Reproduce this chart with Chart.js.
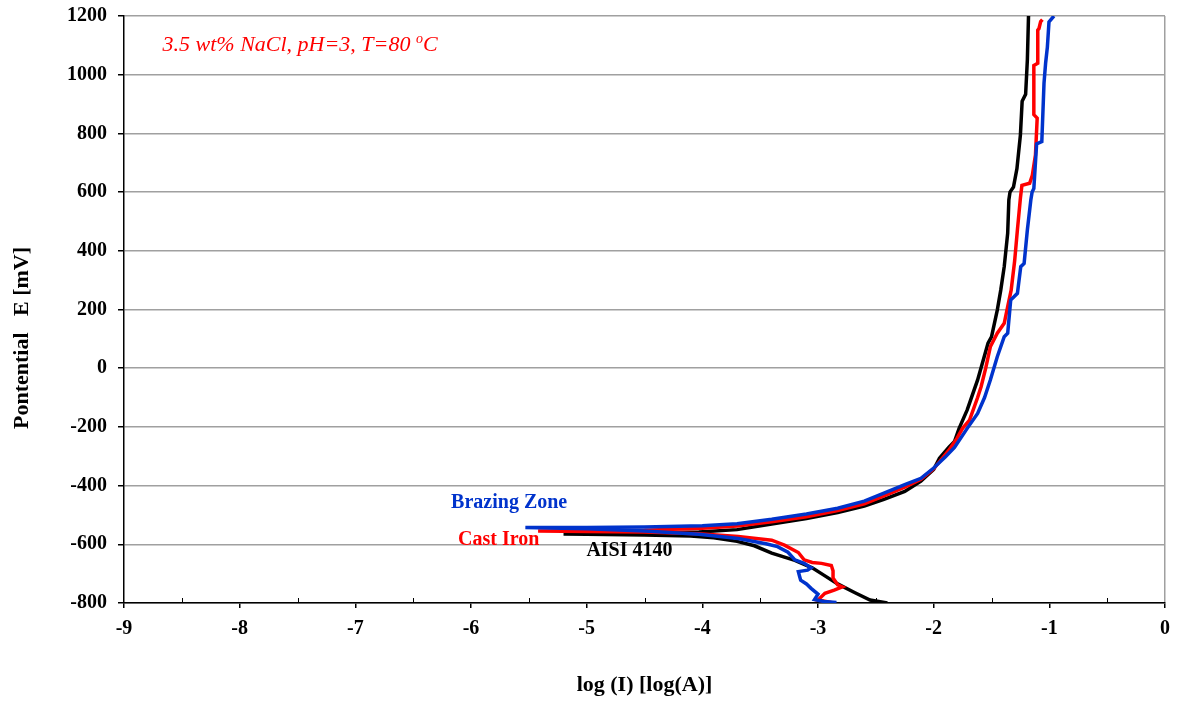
<!DOCTYPE html>
<html>
<head>
<meta charset="utf-8">
<title>Polarization curves – 3.5 wt% NaCl</title>
<script src="https://cdn.jsdelivr.net/npm/chart.js@4.4.1/dist/chart.umd.min.js"></script>
<style>
  html, body { margin: 0; padding: 0; background: #fff; }
  canvas { display: block; }
</style>
</head>
<body>
<canvas id="polar" width="1180" height="701"></canvas>
<script>
// ═══════════════════════════════════════════
// Potentiodynamic polarization – 3.5 wt% NaCl, pH 3, 80 °C
// log(I) on x, potential E (mV) on y
// ═══════════════════════════════════════════

const xTicks = [-9, -8, -7, -6, -5, -4, -3, -2, -1, 0];
const yTicks = [-800, -600, -400, -200, 0, 200, 400, 600, 800, 1000, 1200];

// AISI 4140 – cathodic branch up to Ecorr, then anodic branch
const aisiLogI = [
  -2.40, -2.55, -2.68, -2.83, -2.95, -3.05, -3.20, -3.40, -3.55, -3.70, -3.90, -4.10, -4.50, -5.00, -5.20,
  -5.00, -4.50, -4.03, -3.70, -3.40, -3.10, -2.83, -2.60, -2.43, -2.25, -2.11, -2.00, -1.95, -1.87, -1.82,
  -1.78, -1.71, -1.68, -1.62, -1.53, -1.50, -1.45, -1.42, -1.39, -1.36, -1.35, -1.34, -1.31, -1.28, -1.25,
  -1.235, -1.205, -1.19, -1.18
];
const aisiE = [
  -800, -790, -765, -735, -705, -680, -655, -630, -605, -590, -578, -572, -568, -566, -565,
  -564, -562, -558, -550, -531, -512, -492, -470, -447, -420, -385, -345, -307, -270, -250,
  -205, -142, -108, -40, 85, 107, 198, 266, 346, 460, 573, 600, 617, 680, 795,
  910, 933, 1050, 1200
];

// Cast iron
const castLogI = [
  -2.885, -3.00, -2.94, -2.86, -2.79, -2.83, -2.87, -2.87, -2.885, -2.97, -3.05, -3.12, -3.17, -3.29, -3.40,
  -3.69, -4.03, -4.50, -5.00, -5.42,
  -5.00, -4.50, -4.00, -3.70, -3.40, -3.10, -2.83, -2.60, -2.43, -2.25, -2.11, -2.00, -1.87, -1.80, -1.75,
  -1.69, -1.62, -1.59, -1.55, -1.51, -1.45, -1.39, -1.36, -1.33, -1.30, -1.276, -1.25, -1.237, -1.17, -1.147,
  -1.12, -1.105, -1.134, -1.134, -1.10, -1.10, -1.09, -1.075, -1.06
];
const castE = [
  -798, -790, -767, -756, -745, -738, -715, -690, -672, -665, -662, -653, -628, -603, -586,
  -573, -564, -558, -556, -555,
  -554, -552, -545, -538, -523, -506, -485, -462, -435, -405, -378, -343, -280, -240, -205,
  -177, -100, -63, 0, 73, 119, 153, 210, 266, 365, 471, 580, 623, 630, 657,
  726, 852, 864, 1031, 1039, 1152, 1157, 1181, 1188
];

// Brazing zone
const brazeLogI = [
  -2.84, -2.95, -3.03, -3.00, -3.06, -3.10, -3.15, -3.16, -3.17, -3.09, -3.06, -3.12, -3.20, -3.26, -3.35,
  -3.45, -3.69, -4.03, -4.50, -5.00, -5.53,
  -5.00, -4.50, -4.00, -3.70, -3.40, -3.10, -2.83, -2.60, -2.43, -2.25, -2.11, -2.00, -1.90, -1.82, -1.71,
  -1.62, -1.56, -1.51, -1.45, -1.39, -1.36, -1.334, -1.276, -1.247, -1.218, -1.19, -1.16, -1.149, -1.134,
  -1.11, -1.065, -1.046, -1.032, -1.017, -1.003, -0.96
];
const brazeE = [
  -798, -795, -788, -770, -750, -735, -722, -708, -693, -688, -680, -665, -653, -627, -608,
  -598, -580, -566, -555, -547, -543,
  -543, -541, -537, -530, -515, -497, -477, -453, -426, -397, -375, -340, -303, -270, -205,
  -154, -100, -40, 39, 107, 119, 232, 255, 346, 357, 471, 573, 600, 612,
  764, 772, 971, 1040, 1094, 1180, 1200
];

const seriesNames = ['Brazing Zone', 'Cast Iron', 'AISI 4140'];
const seriesColors = ['#0033cc', '#ff0000', '#000000'];

// in-plot labels, anchored in data units
const curveLabels = [
  { text: 'Brazing Zone', color: '#0033cc', x: -5.67, y: -459 },
  { text: 'Cast Iron', color: '#ff0000', x: -5.76, y: -585 },
  { text: 'AISI 4140', color: '#000000', x: -4.63, y: -623 },
];

const SERIF = "'Liberation Serif', 'Times New Roman', serif";

const toPoints = (xs, ys) => xs.map((x, i) => ({ x, y: ys[i] }));

/**
 * Extra drawing on top of the chart: minor x ticks, rotated y title,
 * condition note and the series labels.
 */
const decorations = {
  id: 'decorations',
  afterDraw(chart) {
    const { ctx, chartArea, scales: { x, y } } = chart;
    ctx.save();

    // minor ticks at half decades, pointing into the plot
    ctx.strokeStyle = '#000';
    ctx.lineWidth = 1;
    for (let i = 0; i < xTicks.length - 1; i++) {
      const px = Math.round(x.getPixelForValue(xTicks[i] + 0.5)) + 0.5;
      ctx.beginPath();
      ctx.moveTo(px, chartArea.bottom);
      ctx.lineTo(px, chartArea.bottom - 5);
      ctx.stroke();
    }

    // y title
    ctx.fillStyle = '#000';
    ctx.font = `bold 22px ${SERIF}`;
    ctx.textAlign = 'center';
    ctx.textBaseline = 'middle';
    ctx.translate(22, 338);
    ctx.rotate(-Math.PI / 2);
    ctx.fillText('Pontential   E [mV]', 0, 0);
    ctx.setTransform(1, 0, 0, 1, 0, 0);

    // test conditions, with a raised "o" for degrees
    ctx.fillStyle = '#ff0000';
    ctx.textAlign = 'left';
    let tx = x.getPixelForValue(-8.667);
    const ty = y.getPixelForValue(1101);
    ctx.font = `italic 22px ${SERIF}`;
    const head = '3.5 wt% NaCl, pH=3, T=80 ';
    ctx.fillText(head, tx, ty);
    tx += ctx.measureText(head).width;
    ctx.font = `italic 14px ${SERIF}`;
    ctx.fillText('o', tx, ty - 6);
    tx += ctx.measureText('o').width;
    ctx.font = `italic 22px ${SERIF}`;
    ctx.fillText('C', tx, ty);

    // series labels
    ctx.font = `bold 20px ${SERIF}`;
    ctx.textAlign = 'center';
    curveLabels.forEach((l) => {
      ctx.fillStyle = l.color;
      ctx.fillText(l.text, x.getPixelForValue(l.x), y.getPixelForValue(l.y));
    });

    ctx.restore();
  },
};

const seriesData = [
  toPoints(brazeLogI, brazeE),
  toPoints(castLogI, castE),
  toPoints(aisiLogI, aisiE),
];

new Chart(document.getElementById('polar').getContext('2d'), {
  type: 'scatter',
  data: {
    datasets: seriesData.map((pts, i) => ({
      label: seriesNames[i],
      data: pts,
      showLine: true,
      borderColor: seriesColors[i],
      backgroundColor: seriesColors[i],
      borderWidth: 3.5,
      pointRadius: 0,
      tension: 0,
    })),
  },
  options: {
    responsive: false,
    animation: false,
    layout: { padding: { left: 0, top: 16, right: 15, bottom: 0 } },
    plugins: {
      legend: { display: false },
      tooltip: { enabled: false },
    },
    scales: {
      x: {
        type: 'linear',
        min: xTicks[0],
        max: xTicks[xTicks.length - 1],
        afterFit: (s) => { s.height = 98; s.paddingLeft = 0; s.paddingRight = 0; },
        afterBuildTicks: (s) => { s.ticks = xTicks.map((v) => ({ value: v })); },
        grid: {
          color: (c) => (c.tick && c.tick.value === 0 ? '#a0a0a0' : 'rgba(0,0,0,0)'),
          lineWidth: 1.5,
          tickColor: '#000',
          tickLength: 5,
        },
        border: { color: '#000', width: 1.5 },
        ticks: {
          color: '#000',
          padding: 9,
          maxRotation: 0,
          callback: (v) => String(v),
          font: { family: SERIF, size: 20, weight: 'bold' },
        },
        title: {
          display: true,
          text: 'log (I) [log(A)]',
          color: '#000',
          padding: { top: 0, bottom: 2 },
          font: { family: SERIF, size: 22, weight: 'bold' },
        },
      },
      y: {
        min: yTicks[0],
        max: yTicks[yTicks.length - 1],
        afterFit: (s) => { s.width = 124; s.paddingTop = 0; s.paddingBottom = 0; },
        afterBuildTicks: (s) => { s.ticks = yTicks.map((v) => ({ value: v })); },
        grid: {
          color: '#a0a0a0',
          lineWidth: 1.5,
          tickColor: '#000',
          tickLength: 6,
        },
        border: { color: '#000', width: 1.5 },
        ticks: {
          color: '#000',
          padding: 11,
          callback: (v) => String(v),
          font: { family: SERIF, size: 20, weight: 'bold' },
        },
      },
    },
  },
  plugins: [decorations],
});
</script>
</body>
</html>
